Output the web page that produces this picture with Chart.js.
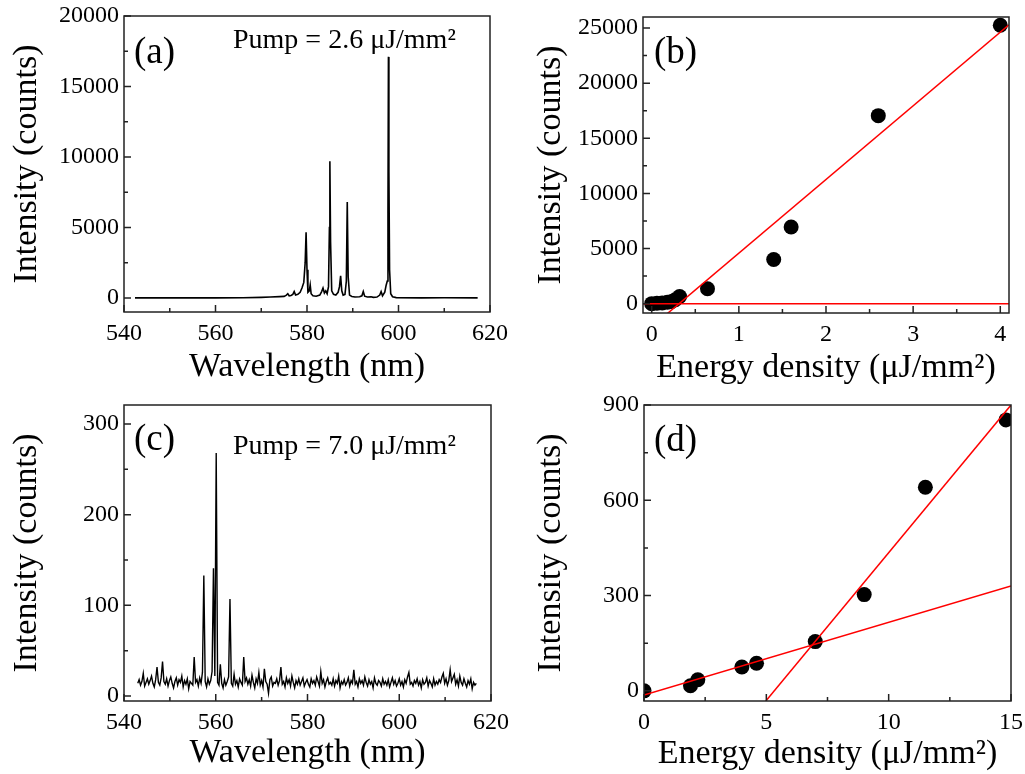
<!DOCTYPE html>
<html lang="en">
<head>
<meta charset="UTF-8">
<title>Lasing spectra and threshold</title>
<script src="https://cdn.jsdelivr.net/npm/chart.js"></script>
<style>
  body { margin: 0; background: #fff; }
  #figure { position: relative; width: 1025px; height: 774px; }
  #figure canvas { position: absolute; }
</style>
</head>
<body>
<div id="figure">
  <canvas id="chartA" width="512" height="390" style="left:0;top:0"></canvas>
  <canvas id="chartB" width="513" height="390" style="left:512px;top:0"></canvas>
  <canvas id="chartC" width="512" height="384" style="left:0;top:390px"></canvas>
  <canvas id="chartD" width="513" height="384" style="left:512px;top:390px"></canvas>
</div>
<script>
// (a) emission spectrum, pump 2.6 uJ/mm2
const wavelengthA = [542.4, 550, 560, 566, 570, 572, 574, 575.0, 575.5, 575.8, 576.1, 576.5, 576.9, 577.2, 577.5,
  578.0, 578.5, 578.9, 579.3, 579.6, 579.8, 580.0, 580.2, 580.5, 580.7, 580.9, 581.3, 582.0, 582.8, 583.2,
  583.5, 583.8, 584.1, 584.4, 584.7, 584.9, 585.0, 585.15, 585.4, 585.8, 586.3, 586.8, 587.1, 587.35, 587.6,
  587.9, 588.3, 588.6, 588.8, 589.0, 589.3, 589.8, 590.5, 591.5, 592.0, 592.3, 592.6, 593.2, 594.0, 594.5,
  595.3, 595.9, 596.2, 596.5, 597.0, 597.3, 597.55, 597.7, 597.8, 597.9, 598.05, 598.3, 598.7, 599.5, 605,
  610, 617.3];
const intensityA = [0, 0, 5, 15, 40, 60, 90, 110, 200, 300, 150, 170, 250, 450, 200,
  250, 400, 700, 1100, 2500, 4650, 2000, 400, 500, 920, 300, 150, 120, 200, 450,
  700, 350, 500, 300, 800, 5000, 9700, 4000, 500, 250, 200, 400, 800, 1560, 500,
  200, 250, 1200, 6800, 1500, 200, 100, 60, 80, 150, 450, 120, 60, 80, 40,
  60, 200, 450, 150, 400, 900, 1200, 6000, 17100, 9000, 2000, 300, 80, 20, 0,
  10, 0];

// (c) emission spectrum, pump 7.0 uJ/mm2 (detector grid 543.0 nm + 0.3 nm steps)
const wavelengthStartC = 543.0;
const wavelengthStepC = 0.3;
const intensityC = [
  14, 18, 12, 16, 25, 11, 15, 19, 13, 17, 22, 14, 10, 18, 32, 15, 12, 20, 38, 16,
  13, 19, 11, 17, 21, 14, 9, 16, 20, 12, 18, 15, 22, 10, 17, 13, 19, 8, 16, 14,
  12, 43, 15, 18, 11, 20, 14, 26, 133, 16, 10, 19, 13, 17, 27, 141, 22, 268, 15, 12,
  35, 14, 9, 18, 12, 16, 21, 107, 14, 11, 24, 13, 17, 10, 19, 15, 12, 43, 16, 20,
  13, 18, 11, 23, 15, 9, 19, 14, 26, 12, 17, 10, 30, 16, 13, 3, 18, 21, 11, 15,
  14, 19, 12, 17, 32, 13, 16, 10, 20, 14, 18, 11, 22, 15, 9, 17, 13, 19, 12, 16,
  20, 11, 15, 18, 13, 10, 19, 14, 17, 12, 21, 16, 11, 27, 14, 18, 10, 16, 20, 13,
  15, 12, 19, 11, 17, 14, 22, 9, 16, 13, 18, 12, 15, 20, 11, 17, 14, 29, 13, 16,
  10, 19, 14, 17, 12, 21, 15, 11, 18, 13, 16, 9, 20, 14, 12, 17, 15, 11, 19, 13,
  16, 12, 18, 10, 15, 20, 13, 17, 11, 14, 19, 12, 16, 10, 18, 14, 21, 26, 13, 15,
  11, 17, 14, 19, 12, 16, 9, 18, 13, 15, 20, 11, 17, 14, 10, 19, 12, 16, 13, 18,
  15, 21, 25, 14, 19, 12, 17, 29, 16, 20, 24, 13, 18, 11, 22, 15, 12, 19, 14, 10,
  17, 13, 19, 8, 15, 12, 14];

// (b) peak intensity vs pump energy density
const energyB = [0, 0.06, 0.12, 0.18, 0.23, 0.27, 0.32, 0.64, 1.4, 1.6, 2.6, 4.0];
const peakB = [0, 30, 60, 120, 200, 350, 650, 1350, 4000, 6950, 17050, 25250];
const fitLowB = { x: [-0.1, 4.1], y: [0, 0] };
const fitHighB = { x: [0.165, 4.1], y: [-1000, 25300] };

// (d) peak intensity vs pump energy density
const energyD = [0, 1.9, 2.2, 4.0, 4.6, 7.0, 9.0, 11.5, 14.8];
const peakD = [0, 16, 35, 75, 87, 155, 303, 641, 853];
const fitLowD = { x: [0, 15], y: [-13, 330] };
const fitHighD = { x: [4.98, 15], y: [-32, 900] };

const serif = '"Liberation Serif", "Times New Roman", serif';
const tickFont = { family: serif, size: 24 };
const titleFont = { family: serif, size: 34 };

const pts = (xs, ys) => xs.map((x, i) => ({ x: x, y: ys[i] }));

// frame, inward ticks, panel letters and pump notes
const panelDecor = {
  id: 'panelDecor',
  afterDatasetsDraw(chart, args, o) {
    const { ctx, chartArea: a } = chart;
    const sx = chart.scales.x, sy = chart.scales.y;
    ctx.save();
    ctx.strokeStyle = '#222';
    ctx.lineWidth = 1.5;
    ctx.beginPath();
    const tx = (v, len) => { const p = sx.getPixelForValue(v); ctx.moveTo(p, a.bottom); ctx.lineTo(p, a.bottom - len); };
    const ty = (v, len) => { const p = sy.getPixelForValue(v); ctx.moveTo(a.left, p); ctx.lineTo(a.left + len, p); };
    sx.ticks.forEach(t => tx(t.value, 7));
    sy.ticks.forEach(t => ty(t.value, 7));
    o.minorX.forEach(v => tx(v, 4));
    o.minorY.forEach(v => ty(v, 4));
    ctx.stroke();
    ctx.strokeRect(a.left, a.top, a.width, a.height);
    ctx.fillStyle = '#000';
    ctx.textBaseline = 'alphabetic';
    ctx.textAlign = 'left';
    ctx.font = '37px ' + serif;
    ctx.fillText(o.label, a.left + o.labelDx, a.top + o.labelDy);
    if (o.note) {
      ctx.font = '28px ' + serif;
      ctx.fillText(o.note, a.left + o.noteDx, a.top + o.noteDy);
    }
    ctx.restore();
  }
};

function axis(s, dir) {
  return {
    type: 'linear',
    position: dir === 'x' ? 'bottom' : 'left',
    min: s.min,
    max: s.max,
    grid: { display: false, drawTicks: false },
    border: { display: false },
    ticks: { color: '#000', font: tickFont, padding: s.pad, autoSkip: false, maxRotation: 0, callback: v => String(v) },
    title: { display: true, text: s.title, color: '#000', font: titleFont, padding: s.titlePad },
    afterBuildTicks: sc => { sc.ticks = s.ticks.map(v => ({ value: v })); },
    afterFit: sc => {
      if (dir === 'x') sc.height = s.size; else sc.width = s.size;
      sc.paddingLeft = 0; sc.paddingRight = 0; sc.paddingTop = 0; sc.paddingBottom = 0;
    }
  };
}

function makePanel(id, cfg) {
  return new Chart(document.getElementById(id), {
    type: 'scatter',
    data: { datasets: cfg.datasets },
    options: {
      responsive: false,
      animation: false,
      devicePixelRatio: 1,
      layout: { padding: cfg.pad },
      plugins: { legend: { display: false }, tooltip: { enabled: false }, panelDecor: cfg.decor },
      scales: { x: axis(cfg.x, 'x'), y: axis(cfg.y, 'y') }
    },
    plugins: [panelDecor]
  });
}

const spectrum = (data, w) => ({ data: data, showLine: true, borderColor: '#000', borderWidth: w, pointRadius: 0, tension: 0 });
const fitLine = f => ({ data: pts(f.x, f.y), showLine: true, borderColor: '#ff0000', borderWidth: 1.5, pointRadius: 0 });
const dots = (xs, ys) => ({ data: pts(xs, ys), showLine: false, pointRadius: 7.5, pointBackgroundColor: '#000', pointBorderColor: '#000', pointBorderWidth: 0 });

const wlTitle = 'Wavelength (nm)';
const intTitle = 'Intensity (counts)';
const edTitle = 'Energy density (\u03bcJ/mm\u00b2)';

makePanel('chartA', {
  datasets: [spectrum(pts(wavelengthA, intensityA), 1.6)],
  pad: { left: 0, right: 22, top: 16, bottom: 0 },
  x: { min: 540, max: 620, ticks: [540, 560, 580, 600, 620], size: 78, pad: 7, title: wlTitle, titlePad: { bottom: 3 } },
  y: { min: -1000, max: 20000, ticks: [0, 5000, 10000, 15000, 20000], size: 124, pad: 5, title: intTitle, titlePad: { top: 7 } },
  decor: { minorX: [550, 570, 590, 610], minorY: [2500, 7500, 12500, 17500], label: '(a)', labelDx: 10, labelDy: 47,
    note: 'Pump = 2.6 \u03bcJ/mm\u00b2', noteDx: 109, noteDy: 32 }
});

makePanel('chartB', {
  datasets: [fitLine(fitLowB), fitLine(fitHighB), dots(energyB, peakB)],
  pad: { left: 0, right: 16, top: 17, bottom: 0 },
  x: { min: -0.1, max: 4.1, ticks: [0, 1, 2, 3, 4], size: 77, pad: 7, title: edTitle, titlePad: { bottom: 2 } },
  y: { min: -850, max: 26000, ticks: [0, 5000, 10000, 15000, 20000, 25000], size: 131, pad: 5, title: intTitle, titlePad: { top: 19 } },
  decor: { minorX: [0.5, 1.5, 2.5, 3.5], minorY: [2500, 7500, 12500, 17500, 22500], label: '(b)', labelDx: 11, labelDy: 46 }
});

makePanel('chartC', {
  datasets: [spectrum(pts(intensityC.map((_, i) => wavelengthStartC + i * wavelengthStepC), intensityC), 1.4)],
  pad: { left: 0, right: 21, top: 15, bottom: 0 },
  x: { min: 540, max: 620, ticks: [540, 560, 580, 600, 620], size: 73, pad: 7, title: wlTitle, titlePad: { bottom: 1 } },
  y: { min: -5.5, max: 321, ticks: [0, 100, 200, 300], size: 124, pad: 5, title: intTitle, titlePad: { top: 7 } },
  decor: { minorX: [550, 570, 590, 610], minorY: [50, 150, 250], label: '(c)', labelDx: 10, labelDy: 45,
    note: 'Pump = 7.0 \u03bcJ/mm\u00b2', noteDx: 109, noteDy: 49 }
});

makePanel('chartD', {
  datasets: [fitLine(fitLowD), fitLine(fitHighD), dots(energyD, peakD)],
  pad: { left: 0, right: 14, top: 15, bottom: 0 },
  x: { min: 0, max: 15, ticks: [0, 5, 10, 15], size: 73, pad: 7, title: edTitle, titlePad: { bottom: 0 } },
  y: { min: -32, max: 900, ticks: [0, 300, 600, 900], size: 132, pad: 5, title: intTitle, titlePad: { top: 19 } },
  decor: { minorX: [2.5, 7.5, 12.5], minorY: [150, 450, 750], label: '(d)', labelDx: 10, labelDy: 46 }
});
</script>
</body>
</html>
